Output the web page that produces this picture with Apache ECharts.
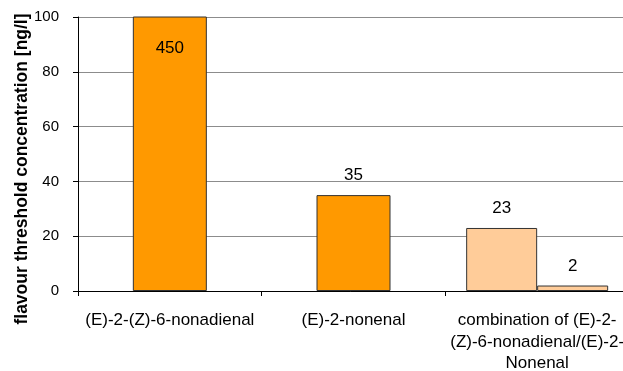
<!DOCTYPE html>
<html>
<head>
<meta charset="utf-8">
<script src="https://cdn.jsdelivr.net/npm/echarts@6/dist/echarts.min.js"></script>
<style>
  html, body { margin: 0; padding: 0; background: #fff; }
  #chart { width: 623px; height: 371px; }
</style>
</head>
<body>
<div id="chart"></div>
<script>
// Aldehyde flavour thresholds
const categories = [
  '(E)-2-(Z)-6-nonadienal',
  '(E)-2-nonenal',
  'combination of (E)-2-\n(Z)-6-nonadienal/(E)-2-\nNonenal'
];
const singleThresholds = [450, 35, null];
const comboFirst = [null, null, 23];
const comboSecond = [null, null, 2];
const yTicks = { min: 0, max: 100, interval: 20 };

const FONT = "'Liberation Sans', Arial, sans-serif";
const chart = echarts.init(document.getElementById('chart'), null, { renderer: 'canvas' });

const barLabel = {
  show: true,
  position: 'top',
  distance: 11,
  color: '#000',
  fontFamily: FONT,
  fontSize: 17
};

// values beyond the axis maximum get their label inside the clipped bar
const singleData = singleThresholds.map(function (v) {
  if (v != null && v > yTicks.max) {
    return { value: v, label: { position: 'insideTop', distance: 23 } };
  }
  return v;
});

chart.setOption({
  animation: false,
  // the plot runs slightly past the right edge of the page
  grid: { left: 78, top: 17, right: -6, bottom: 80, containLabel: false, outerBoundsMode: 'none' },
  xAxis: [
    {
      type: 'category',
      data: categories,
      axisLine: { lineStyle: { color: '#000', width: 1 } },
      axisTick: { show: true, length: 5, lineStyle: { color: '#000' } },
      axisLabel: {
        color: '#000', fontFamily: FONT, fontSize: 17,
        lineHeight: 21.5, margin: 19, interval: 0
      }
    },
    { type: 'category', data: categories, show: false }
  ],
  yAxis: {
    type: 'value',
    min: yTicks.min, max: yTicks.max, interval: yTicks.interval,
    axisLine: { show: true, lineStyle: { color: '#000', width: 1 } },
    axisTick: { show: true, length: 5, lineStyle: { color: '#000' } },
    axisLabel: { color: '#000', fontFamily: FONT, fontSize: 15, margin: 19 },
    splitLine: { lineStyle: { color: '#8c8c8c', width: 1 } }
  },
  graphic: [{
    type: 'text',
    x: 22, y: 169,
    rotation: Math.PI / 2,
    style: {
      text: 'flavour threshold concentration [ng/l]',
      fontFamily: FONT, fontSize: 17.5, fontWeight: 'bold',
      fill: '#000', align: 'center', verticalAlign: 'middle'
    }
  }],
  series: [
    {
      type: 'bar', xAxisIndex: 0, data: singleData,
      barWidth: 74, clip: true,
      itemStyle: { color: '#FF9900', borderColor: '#333', borderWidth: 1 },
      label: barLabel
    },
    {
      type: 'bar', xAxisIndex: 1, data: comboFirst,
      barWidth: 71, barGap: 0,
      itemStyle: { color: '#FFCC99', borderColor: '#333', borderWidth: 1 },
      label: barLabel
    },
    {
      type: 'bar', xAxisIndex: 1, data: comboSecond,
      barWidth: 71, barGap: 0,
      itemStyle: { color: '#FFCC99', borderColor: '#333', borderWidth: 1 },
      label: barLabel
    }
  ]
});
</script>
</body>
</html>
